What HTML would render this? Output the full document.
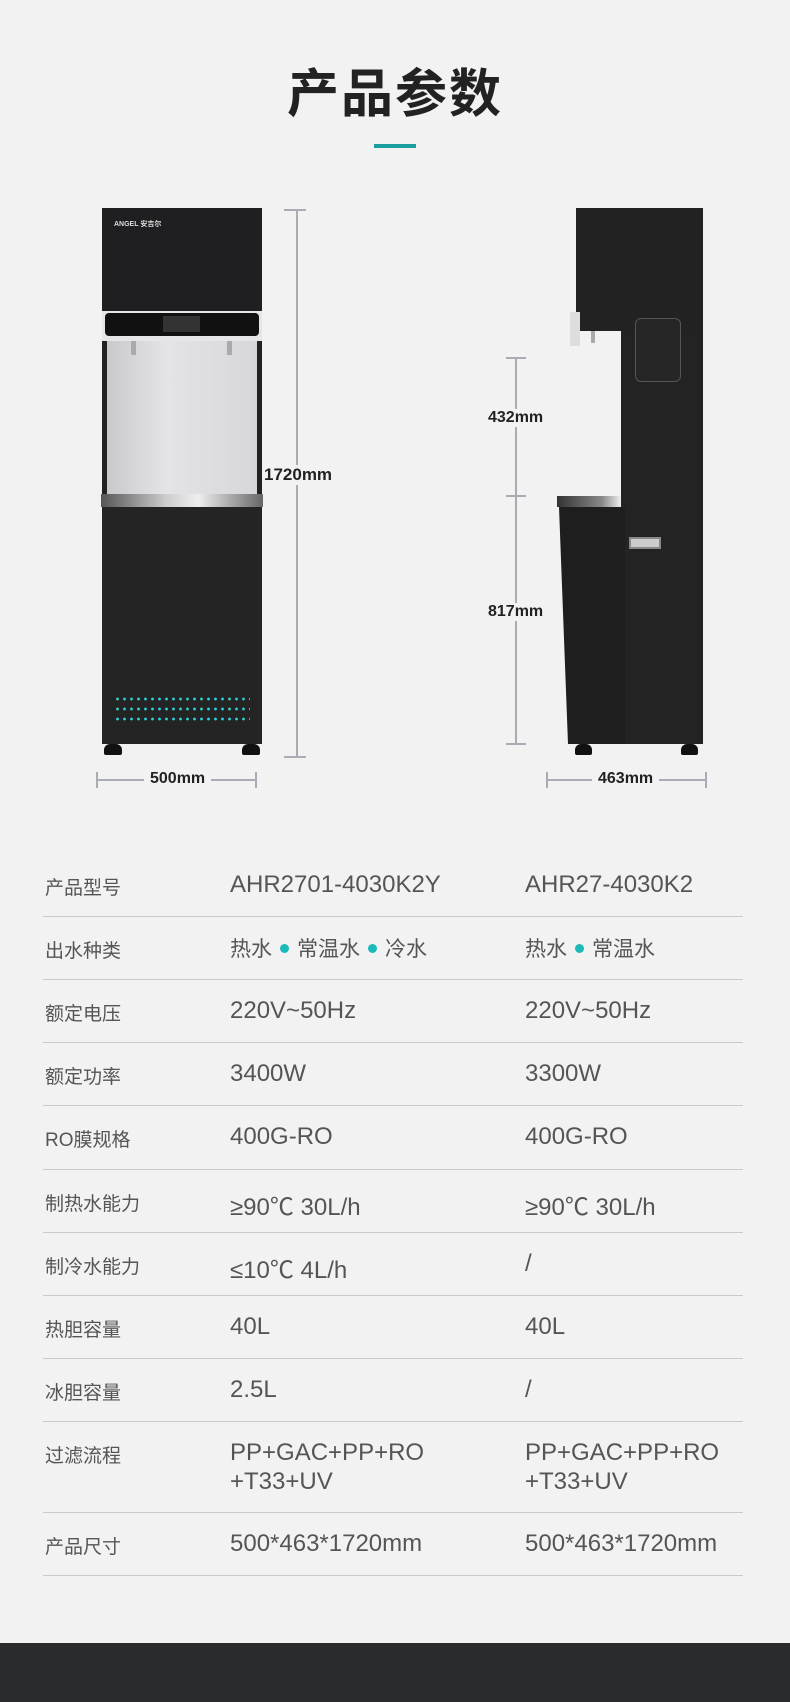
<!DOCTYPE html>
<html><head><meta charset="utf-8">
<style>
*{margin:0;padding:0;box-sizing:border-box}
body{width:790px;height:1702px;background:#f2f2f2;position:relative;overflow:hidden;font-family:"Liberation Sans","Noto Sans CJK SC",sans-serif}
.a{position:absolute}
.dim{background:#a9abb5}
.lbl{position:absolute;font-weight:bold;font-size:16px;color:#222;background:#f2f2f2;padding:0 2px}
.row{position:absolute;left:43px;width:700px;border-bottom:1px solid #c9c9c9}
.c1,.c2,.c3{position:absolute;color:#555}
.c1{left:2px;font-size:19px}
.c2{left:187px;font-size:24px}
.c3{left:482px;font-size:24px}
.dot{display:inline-block;width:9px;height:9px;border-radius:50%;background:#1cb9b9;margin:0 8px 3px 8px;vertical-align:middle}
</style></head><body>
<div class="a" style="left:0;top:52px;width:790px;text-align:center;font-size:52px;font-weight:bold;color:#222;letter-spacing:2px">产品参数</div>
<div class="a" style="left:374px;top:144px;width:42px;height:4px;background:#1a9e9e"></div>

<!-- front view -->
<div class="a" style="left:102px;top:208px;width:160px;height:103px;background:#1f1f21"></div>
<div class="a" style="left:114px;top:219px;font-size:7px;color:#ddd;font-weight:bold">ANGEL 安吉尔</div>
<div class="a" style="left:102px;top:311px;width:160px;height:30px;background:#e6e6e8"></div>
<div class="a" style="left:105px;top:313px;width:154px;height:23px;background:#111;border-radius:4px"></div>
<div class="a" style="left:163px;top:316px;width:37px;height:16px;background:#333"></div>
<div class="a" style="left:104px;top:341px;width:156px;height:153px;background:linear-gradient(90deg,#c8c8cc,#e4e4e8 40%,#d6d6da)"></div>
<div class="a" style="left:102px;top:341px;width:5px;height:166px;background:#222"></div>
<div class="a" style="left:257px;top:341px;width:5px;height:166px;background:#222"></div>
<div class="a" style="left:131px;top:341px;width:5px;height:14px;background:#aaa"></div>
<div class="a" style="left:227px;top:341px;width:5px;height:14px;background:#aaa"></div>
<div class="a" style="left:101px;top:494px;width:162px;height:13px;background:linear-gradient(90deg,#555,#ccc 40%,#eee 60%,#666)"></div>
<div class="a" style="left:102px;top:507px;width:160px;height:237px;background:#242424"></div>
<div class="a" style="left:114px;top:694px;width:136px;height:30px;background:radial-gradient(circle,#2bd3df 1.2px,transparent 1.6px) 0 0/7px 10px"></div>
<div class="a" style="left:104px;top:744px;width:18px;height:11px;background:#111;border-radius:6px 6px 2px 2px"></div>
<div class="a" style="left:242px;top:744px;width:18px;height:11px;background:#111;border-radius:6px 6px 2px 2px"></div>
<!-- 1720 dim -->
<div class="a dim" style="left:296px;top:209px;width:2px;height:548px"></div>
<div class="a dim" style="left:284px;top:209px;width:22px;height:2px"></div>
<div class="a dim" style="left:284px;top:756px;width:22px;height:2px"></div>
<div class="lbl" style="left:262px;top:465px;font-size:17px">1720mm</div>
<div class="a dim" style="left:96px;top:772px;width:2px;height:16px"></div>
<div class="a dim" style="left:255px;top:772px;width:2px;height:16px"></div>
<div class="a dim" style="left:96px;top:779px;width:160px;height:2px"></div>
<div class="lbl" style="left:144px;top:770px;font-size:16px;padding:0 6px">500mm</div>

<!-- side view -->
<div class="a" style="left:576px;top:208px;width:127px;height:123px;background:#222"></div>
<div class="a" style="left:621px;top:330px;width:82px;height:414px;background:#232323"></div>
<div class="a" style="left:570px;top:312px;width:10px;height:34px;background:#ddd"></div>
<div class="a" style="left:591px;top:331px;width:4px;height:12px;background:#aaa"></div>
<div class="a" style="left:635px;top:318px;width:46px;height:64px;border:1px solid #555;border-radius:6px;background:#262626"></div>
<div class="a" style="left:557px;top:496px;width:64px;height:11px;background:linear-gradient(90deg,#333,#888 70%,#eee)"></div>
<div class="a" style="left:559px;top:507px;width:66px;height:237px;background:#1e1e1e;clip-path:polygon(0 0,100% 0,100% 100%,9px 100%)"></div>
<div class="a" style="left:629px;top:537px;width:32px;height:12px;background:#ccc;border:2px solid #888"></div>
<div class="a" style="left:575px;top:744px;width:17px;height:11px;background:#111;border-radius:6px 6px 2px 2px"></div>
<div class="a" style="left:681px;top:744px;width:17px;height:11px;background:#111;border-radius:6px 6px 2px 2px"></div>
<div class="a dim" style="left:515px;top:357px;width:2px;height:388px"></div>
<div class="a dim" style="left:506px;top:357px;width:20px;height:2px"></div>
<div class="a dim" style="left:506px;top:495px;width:20px;height:2px"></div>
<div class="a dim" style="left:506px;top:743px;width:20px;height:2px"></div>
<div class="lbl" style="left:486px;top:409px">432mm</div>
<div class="lbl" style="left:486px;top:603px">817mm</div>
<div class="a dim" style="left:546px;top:772px;width:2px;height:16px"></div>
<div class="a dim" style="left:705px;top:772px;width:2px;height:16px"></div>
<div class="a dim" style="left:546px;top:779px;width:160px;height:2px"></div>
<div class="lbl" style="left:592px;top:770px;padding:0 6px">463mm</div>

<!-- table -->
<div class="row" style="top:854px;height:63px"><div class="c1" style="top:19px">产品型号</div><div class="c2" style="top:17px">AHR2701-4030K2Y</div><div class="c3" style="top:17px">AHR27-4030K2</div></div>
<div class="row" style="top:917px;height:63px"><div class="c1" style="top:19px">出水种类</div><div class="c2" style="top:16px;font-size:21px">热水<span class="dot"></span>常温水<span class="dot"></span>冷水</div><div class="c3" style="top:16px;font-size:21px">热水<span class="dot"></span>常温水</div></div>
<div class="row" style="top:980px;height:63px"><div class="c1" style="top:19px">额定电压</div><div class="c2" style="top:17px">220V~50Hz</div><div class="c3" style="top:17px">220V~50Hz</div></div>
<div class="row" style="top:1043px;height:63px"><div class="c1" style="top:19px">额定功率</div><div class="c2" style="top:17px">3400W</div><div class="c3" style="top:17px">3300W</div></div>
<div class="row" style="top:1106px;height:64px"><div class="c1" style="top:19px">RO膜规格</div><div class="c2" style="top:17px">400G-RO</div><div class="c3" style="top:17px">400G-RO</div></div>
<div class="row" style="top:1170px;height:63px"><div class="c1" style="top:19px">制热水能力</div><div class="c2" style="top:17px">≥90℃ 30L/h</div><div class="c3" style="top:17px">≥90℃ 30L/h</div></div>
<div class="row" style="top:1233px;height:63px"><div class="c1" style="top:19px">制冷水能力</div><div class="c2" style="top:17px">≤10℃ 4L/h</div><div class="c3" style="top:17px">/</div></div>
<div class="row" style="top:1296px;height:63px"><div class="c1" style="top:19px">热胆容量</div><div class="c2" style="top:17px">40L</div><div class="c3" style="top:17px">40L</div></div>
<div class="row" style="top:1359px;height:63px"><div class="c1" style="top:19px">冰胆容量</div><div class="c2" style="top:17px">2.5L</div><div class="c3" style="top:17px">/</div></div>
<div class="row" style="top:1422px;height:91px"><div class="c1" style="top:19px">过滤流程</div><div class="c2" style="top:16px;line-height:29px">PP+GAC+PP+RO<br>+T33+UV</div><div class="c3" style="top:16px;line-height:29px">PP+GAC+PP+RO<br>+T33+UV</div></div>
<div class="row" style="top:1513px;height:63px"><div class="c1" style="top:19px">产品尺寸</div><div class="c2" style="top:17px">500*463*1720mm</div><div class="c3" style="top:17px">500*463*1720mm</div></div>

<div class="a" style="left:0;top:1643px;width:790px;height:59px;background:#2a2b2d"></div>
</body></html>
